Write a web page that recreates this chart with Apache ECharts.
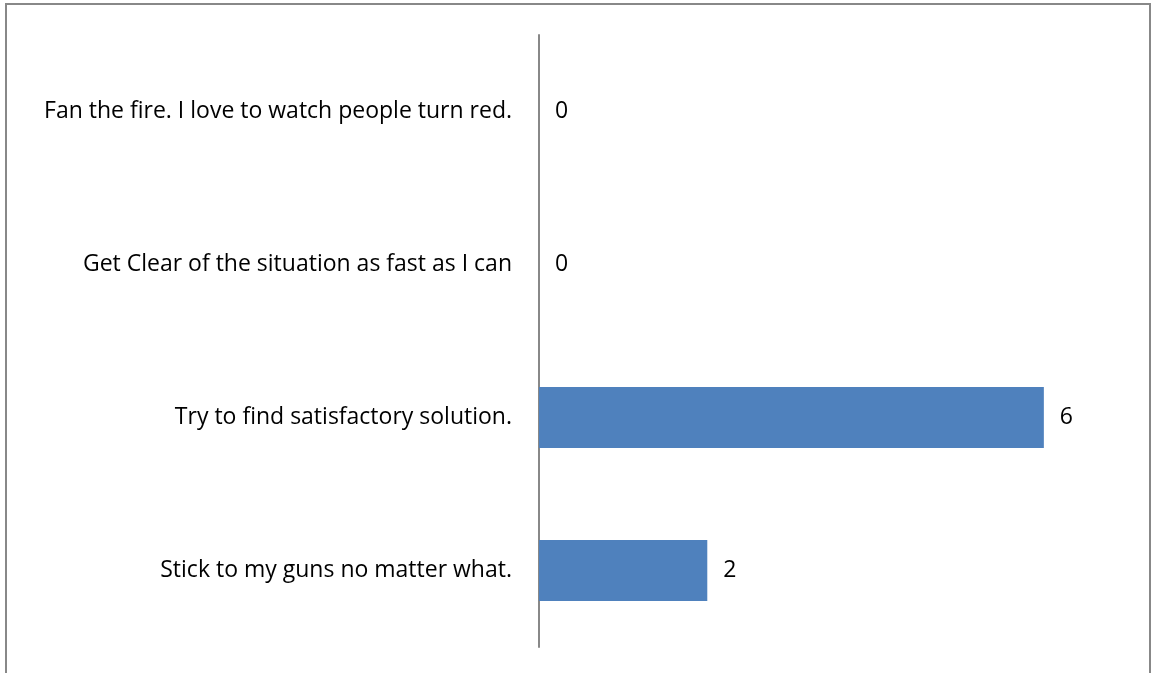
<!DOCTYPE html>
<html><head><meta charset="utf-8">
<script src="https://cdn.jsdelivr.net/npm/echarts@6/dist/echarts.min.js"></script>
<style>html,body{margin:0;padding:0;background:#fff}#c{width:1152px;height:673px}</style>
</head><body><div id="c"></div>
<script>
const categories = ["Stick to my guns no matter what.", "Try to find satisfactory solution.", "Get Clear of the situation as fast as I can", "Fan the fire. I love to watch people turn red."];
const values = [2, 6, 0, 0];
const chart = echarts.init(document.getElementById('c'), null, {renderer:'canvas'});
chart.setOption({
  animation:false,
  graphic:[{type:'rect',shape:{x:6,y:4,width:1144,height:700},style:{fill:'none',stroke:'#888',lineWidth:2},silent:true}],
  grid:{left:539,right:24,top:35,bottom:26,containLabel:false},
  xAxis:{type:'value',min:0,max:7,show:false,splitLine:{show:false}},
  yAxis:{type:'category',data:categories,axisLine:{show:true,lineStyle:{color:'#888',width:2}},axisTick:{show:false},
    axisLabel:{margin:27,fontFamily:'Open Sans',fontSize:23,color:'#000'}},
  series:[{type:'bar',data:values,barWidth:61,itemStyle:{color:'#4f81bd'},
    label:{show:true,position:'right',distance:16,fontFamily:'Open Sans',fontSize:23,color:'#000'}}]
});
</script></body></html>
